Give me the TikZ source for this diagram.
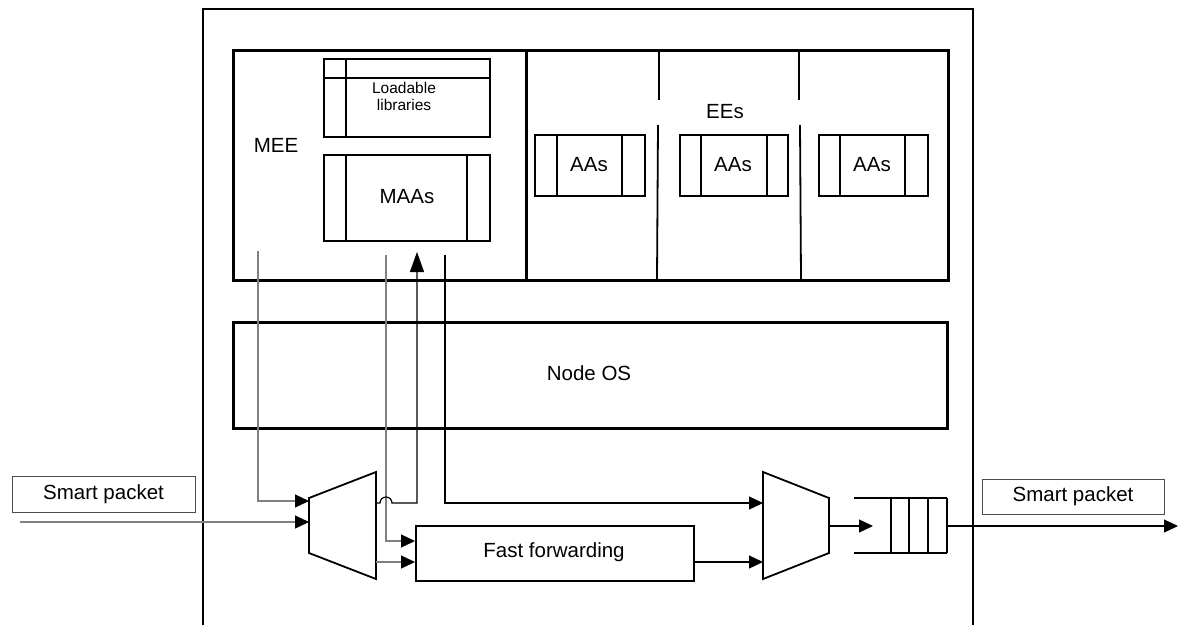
\documentclass[tikz,border=0pt]{standalone}
\usepackage{fontspec}
\setmainfont{Liberation Sans}
\usetikzlibrary{arrows.meta}
\begin{document}
\begin{tikzpicture}[x=1pt,y=-1pt,
  thickbox/.style={draw, line width=3pt, inner sep=0pt, anchor=north west},
  midbox/.style={draw, line width=1.8pt, inner sep=0pt, anchor=north west},
  pktbox/.style={draw=black!70, line width=1.3pt, inner sep=0pt, anchor=north west},
  midline/.style={line width=1.8pt},
  lbl/.style={font=\fontsize{20.5}{24}\selectfont},
  small/.style={font=\fontsize{15.5}{17}\selectfont, align=center},
  conn/.style={line width=1.2pt, draw=black},
  gconn/.style={line width=1.2pt, draw=black!50},
  tip/.style={-{Triangle[length=14pt,width=13pt,color=black]}},
  uptip/.style={-{Triangle[length=20pt,width=14pt,color=black]}}]
\useasboundingbox (0,0) rectangle (1178,625);
% outer frame
\draw[line width=2pt] (203,625) -- (203,9) -- (973,9) -- (973,625);
% MEE and EEs
\node[thickbox, minimum width=293pt, minimum height=230pt] (mee) at (232,49) {};
\node[lbl] (meelbl) at (276,145) {MEE};
\node[thickbox, minimum width=422pt, minimum height=230pt] (ees) at (525,49) {};
\node[lbl] (eeslbl) at (725,112) {EEs};
\draw[midline] (659,49) -- (659,100);
\draw[midline] (658,125) -- (657,279);
\draw[midline] (799,49) -- (799,100);
\draw[midline] (800,125) -- (801,279);
% Loadable libraries
\node[midbox, minimum width=166pt, minimum height=78pt] (lib) at (323,58) {};
\draw[midline] (323,78) -- (489,78);
\draw[midline] (346,58) -- (346,136);
\node[small] (liblbl) at (404,96) {Loadable\\libraries};
% MAAs
\node[midbox, minimum width=166pt, minimum height=86pt] (maas) at (323,154) {};
\draw[midline] (346,154) -- (346,240);
\draw[midline] (467,154) -- (467,240);
\node[lbl] (maaslbl) at (407,197) {MAAs};
% AAs
\node[midbox, minimum width=110pt, minimum height=61pt] (aa1) at (534,134) {};
\draw[midline] (557,134) -- (557,195);
\draw[midline] (622,134) -- (622,195);
\node[lbl] (aa1lbl) at (589,165) {AAs};
\node[midbox, minimum width=108pt, minimum height=61pt] (aa2) at (679,134) {};
\draw[midline] (701,134) -- (701,195);
\draw[midline] (767,134) -- (767,195);
\node[lbl] (aa2lbl) at (733,165) {AAs};
\node[midbox, minimum width=109pt, minimum height=61pt] (aa3) at (818,134) {};
\draw[midline] (840,134) -- (840,195);
\draw[midline] (905,134) -- (905,195);
\node[lbl] (aa3lbl) at (872,165) {AAs};
% Node OS
\node[thickbox, minimum width=714pt, minimum height=106pt] (nos) at (232,321) {};
\node[lbl] (noslbl) at (589,373) {Node OS};
% Smart packet boxes
\node[pktbox, minimum width=183pt, minimum height=36pt] (spin) at (12,476) {};
\node[lbl] (spinlbl) at (103.5,494) {Smart packet};
\node[pktbox, minimum width=182pt, minimum height=35pt] (spout) at (982,479) {};
\node[lbl] (spoutlbl) at (1073,496.5) {Smart packet};
% Fast forwarding
\node[midbox, minimum width=278pt, minimum height=55pt] (ff) at (415,525) {};
\node[lbl] (fflbl) at (554,552) {Fast forwarding};
% multiplexers
\draw[midline] (309,498) coordinate (m1a) -- (376,472) -- (376,579) -- (309,553) -- cycle;
\draw[midline] (763,472) coordinate (m2a) -- (829,498) -- (829,553) -- (763,579) -- cycle;
% queue
\draw[midline] (854,498) -- (947,498);
\draw[midline] (854,553) -- (947,553);
\foreach \qx in {891,909,928,947} \draw[midline] (\qx,498) -- (\qx,553);
% connector end points
\coordinate (s1) at (258,251);
\coordinate (s2) at (386,255);
\coordinate (s3) at (445,255);
\coordinate (in0) at (20,522);
\coordinate (m1in1) at (309,501);
\coordinate (m1in2) at (309,522);
\coordinate (m1out1) at (376,503);
\coordinate (m1out2) at (376,562);
\coordinate (maasin) at (417,252);
\coordinate (ffin1) at (415,541);
\coordinate (ffin2) at (415,562);
\coordinate (ffout) at (693,562);
\coordinate (m2in1) at (763,503);
\coordinate (m2in2) at (763,562);
\coordinate (m2out) at (829,526);
\coordinate (qin) at (873,526);
\coordinate (qout) at (947,526);
\coordinate (out0) at (1178,526);
% connectors
\draw[gconn, tip] (s1) |- (m1in1);
\draw[gconn, tip] (in0) -- (m1in2);
\draw[gconn, tip] (s2) |- (ffin1);
\draw[conn, uptip] (m1out1) -- (380,503) arc[start angle=180, end angle=0, radius=6pt] -- (417,503) -- (maasin);
\draw[conn, tip] (s3) |- (m2in1);
\draw[gconn, tip] (m1out2) -- (ffin2);
\draw[conn, tip] (ffout) -- (m2in2);
\draw[conn, tip] (m2out) -- (qin);
\draw[conn, tip] (qout) -- (out0);
\end{tikzpicture}
\end{document}
